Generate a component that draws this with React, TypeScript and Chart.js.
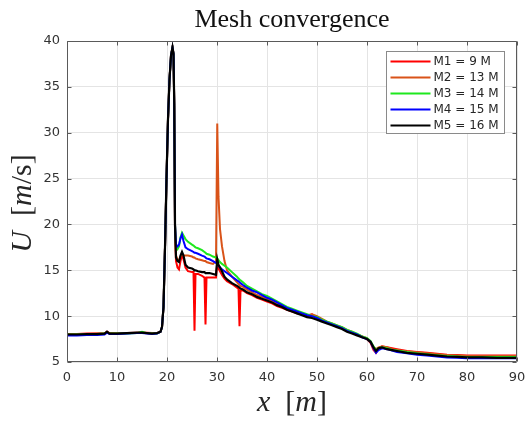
import React, { useEffect, useRef } from "react";
import { Chart, registerables } from "chart.js";

Chart.register(...registerables);

// x positions along the channel [m]
const X = [
  0, 2, 4, 6, 7.5, 8, 8.5, 10, 12, 14, 15, 16, 17, 18, 18.7, 19, 19.3, 19.6, 19.9, 20.2,
  20.5, 20.8, 21.1, 21.3, 21.45, 21.6, 21.8, 22.1, 22.4, 22.7, 23, 23.3, 23.7, 24.2, 25, 25.3,
  25.5, 25.7, 26.2, 27, 27.5, 27.7, 27.9, 28.5, 29.2, 29.8, 30.05, 30.3, 30.6, 31, 31.5, 32,
  33, 34, 34.3, 34.5, 34.7, 35.2, 36, 37, 38, 39, 40, 41, 42, 43, 44, 45, 46, 47, 48, 49, 50,
  51, 52, 53, 54, 55, 56, 57, 58, 59, 60, 60.7, 61.3, 61.8, 62.3, 63, 64, 65, 66, 68, 70, 72,
  74, 76, 78, 80, 83, 86, 90,
];

const M1 = [
  8.05, 8.05, 8.1, 8.1, 8.1, 8.3, 8.15, 8.1, 8.15, 8.2, 8.2, 8.2, 8.15, 8.15,
  8.3, 8.8, 11.0, 17.5, 25.0, 31.5, 35.8, 38.4, 39.3, 38.6, 33.0, 19.5,
  16.0, 15.3, 15.1, 16.0, 16.7, 16.2, 15.3, 14.9, 14.8, 14.8, 8.4, 14.6, 14.6, 14.4, 14.2, 9.1,
  14.2, 14.2, 14.2, 14.2, 15.8, 15.2, 14.9, 14.5, 14.1, 13.8, 13.5, 13.1, 13.0, 8.9, 12.8, 12.8,
  12.5, 12.3, 12.0, 11.8, 11.6, 11.4, 11.1, 10.9, 10.7, 10.5, 10.3, 10.2, 10.0, 10.2, 9.8, 9.5,
  9.3, 9.1, 8.9, 8.7, 8.4, 8.2, 8.0, 7.8, 7.5, 7.1, 6.3, 6.0, 6.5, 6.7, 6.6, 6.5, 6.4, 6.2, 6.1,
  6.0, 5.9, 5.8, 5.75, 5.7, 5.7, 5.7, 5.7,
];

const M2 = [
  8.0, 8.05, 8.05, 8.1, 8.1, 8.25, 8.1, 8.1, 8.15, 8.15, 8.2, 8.15, 8.1, 8.15,
  8.3, 8.8, 11.0, 17.5, 25.0, 31.5, 35.8, 38.4, 39.3, 38.6, 33.0, 20.0,
  16.6, 16.2, 16.0, 16.5, 16.8, 16.6, 16.6, 16.6, 16.5, 16.4, 16.4, 16.3, 16.2, 16.1, 16.0, 16.0,
  15.9, 15.8, 15.7, 16.0, 31.0, 23.0, 19.5, 17.6, 16.0, 15.0, 14.3, 13.7, 13.5, 13.4, 13.3, 13.2,
  12.9, 12.6, 12.3, 12.1, 11.9, 11.6, 11.3, 11.1, 10.9, 10.6, 10.4, 10.2, 10.1, 10.2, 10.0, 9.7,
  9.4, 9.2, 9.0, 8.8, 8.5, 8.3, 8.0, 7.8, 7.6, 7.2, 6.6, 6.4, 6.6, 6.7, 6.6, 6.4, 6.3, 6.15, 6.05,
  5.95, 5.85, 5.75, 5.7, 5.65, 5.65, 5.65, 5.65,
];

const M3 = [
  8.0, 8.0, 8.0, 8.05, 8.1, 8.2, 8.1, 8.1, 8.1, 8.15, 8.3, 8.15, 8.1, 8.1,
  8.3, 8.8, 11.0, 17.5, 25.0, 31.5, 35.8, 38.4, 39.3, 38.6, 33.0, 20.0,
  17.5, 17.3, 17.6, 18.6, 19.1, 18.8, 18.4, 18.1, 17.8, 17.7, 17.6, 17.5, 17.4, 17.2, 17.0, 16.9,
  16.8, 16.7, 16.5, 16.4, 16.3, 16.1, 15.9, 15.7, 15.5, 15.3, 14.8, 14.3, 14.1, 14.0, 13.9, 13.7,
  13.3, 13.0, 12.7, 12.4, 12.2, 11.9, 11.6, 11.3, 11.0, 10.8, 10.6, 10.4, 10.2, 10.0, 9.9, 9.6,
  9.4, 9.2, 9.0, 8.8, 8.5, 8.3, 8.1, 7.8, 7.6, 7.3, 6.7, 6.3, 6.5, 6.6, 6.5, 6.35, 6.25, 6.1, 5.95,
  5.85, 5.75, 5.65, 5.6, 5.55, 5.55, 5.55, 5.55,
];

const M4 = [
  7.9, 7.9, 7.95, 7.95, 8.0, 8.2, 8.05, 8.05, 8.1, 8.15, 8.15, 8.1, 8.05, 8.1,
  8.3, 8.8, 11.0, 17.5, 25.0, 31.5, 35.8, 38.4, 39.3, 38.6, 33.0, 20.0,
  17.8, 17.6, 17.8, 18.5, 18.9, 18.2, 17.5, 17.3, 17.1, 17.0, 16.9, 16.9, 16.8, 16.6, 16.5, 16.4,
  16.3, 16.2, 16.0, 15.8, 15.7, 15.5, 15.3, 15.1, 14.9, 14.7, 14.3, 13.9, 13.8, 13.7, 13.6, 13.4,
  13.1, 12.8, 12.6, 12.3, 12.0, 11.8, 11.5, 11.2, 10.9, 10.7, 10.5, 10.3, 10.1, 10.0, 9.8, 9.5,
  9.3, 9.1, 8.9, 8.7, 8.4, 8.2, 8.0, 7.7, 7.5, 7.2, 6.5, 6.0, 6.3, 6.5, 6.4, 6.25, 6.1, 5.95, 5.8,
  5.7, 5.6, 5.5, 5.45, 5.4, 5.4, 5.4, 5.4,
];

const M5 = [
  8.0, 8.0, 8.05, 8.05, 8.1, 8.3, 8.1, 8.1, 8.15, 8.2, 8.2, 8.15, 8.1, 8.15,
  8.3, 8.8, 11.0, 17.5, 25.0, 31.5, 35.8, 38.4, 39.3, 38.6, 33.0, 20.0,
  16.4, 16.0, 15.9, 16.6, 17.0, 16.6, 15.6, 15.3, 15.2, 15.1, 15.0, 15.0, 14.9, 14.8, 14.8, 14.7,
  14.7, 14.7, 14.6, 14.5, 16.2, 15.6, 15.3, 14.9, 14.3, 14.0, 13.6, 13.3, 13.2, 13.1, 13.0, 12.9,
  12.6, 12.4, 12.1, 11.9, 11.7, 11.5, 11.2, 11.0, 10.7, 10.5, 10.3, 10.1, 9.9, 9.8, 9.6, 9.4,
  9.2, 9.0, 8.8, 8.6, 8.3, 8.1, 7.9, 7.7, 7.5, 7.2, 6.6, 6.2, 6.5, 6.6, 6.4, 6.3, 6.2, 6.0, 5.9,
  5.8, 5.7, 5.6, 5.55, 5.5, 5.5, 5.45, 5.45,
];

const SERIES_LABELS = ["M1 = 9 M", "M2 = 13 M", "M3 = 14 M", "M4 = 15 M", "M5 = 16 M"];
const SERIES_COLORS = ["#ff0000", "#d95319", "#1ee81e", "#0000ff", "#000000"];
const SERIES_VALUES = [M1, M2, M3, M4, M5];

const X_TICKS = [0, 10, 20, 30, 40, 50, 60, 70, 80, 90];
const Y_TICKS = [5, 10, 15, 20, 25, 30, 35, 40];

const TITLE = "Mesh convergence";
const X_LABEL: [string, boolean][] = [["x", true], ["  [", false], ["m", true], ["]", false]];
const Y_LABEL: [string, boolean][] = [
  ["U", true], ["  [", false], ["m", true], ["/", false], ["s", false], ["]", false],
];

const AXIS_COLOR = "#5a5a5a";
const SERIF = '"Liberation Serif", "Times New Roman", serif';
const SANS = '"DejaVu Sans", sans-serif';

function drawSegments(ctx: CanvasRenderingContext2D, segs: [string, boolean][], cx: number, baseline: number, size: number) {
  const fonts = segs.map(([, it]) => `${it ? "italic " : ""}${size}px ${SERIF}`);
  const widths = segs.map(([t], i) => {
    ctx.font = fonts[i];
    return ctx.measureText(t).width;
  });
  const total = widths.reduce((a, b) => a + b, 0);
  let x = cx - total / 2;
  ctx.textAlign = "left";
  ctx.textBaseline = "alphabetic";
  segs.forEach(([t], i) => {
    ctx.font = fonts[i];
    ctx.fillText(t, x, baseline);
    x += widths[i];
  });
}

const framePlugin = {
  id: "frame",
  beforeDraw(chart: any) {
    const { ctx, width, height } = chart;
    ctx.save();
    ctx.fillStyle = "#ffffff";
    ctx.fillRect(0, 0, width, height);
    ctx.restore();
  },
  afterDraw(chart: any) {
    const { ctx, chartArea: a, scales } = chart;
    const xs = scales.x;
    const ys = scales.y;
    ctx.save();
    ctx.strokeStyle = AXIS_COLOR;
    ctx.lineWidth = 1;
    const L = Math.round(a.left) + 0.5;
    const R = Math.round(a.right) - 0.5;
    const T = Math.round(a.top) + 0.5;
    const B = Math.round(a.bottom) - 0.5;
    ctx.beginPath();
    ctx.moveTo(L, T);
    ctx.lineTo(R, T);
    ctx.lineTo(R, B);
    ctx.lineTo(L, B);
    ctx.closePath();
    ctx.stroke();
    ctx.beginPath();
    X_TICKS.forEach((v) => {
      const p = Math.round(xs.getPixelForValue(v)) + 0.5;
      ctx.moveTo(p, B);
      ctx.lineTo(p, B - 4);
      ctx.moveTo(p, T);
      ctx.lineTo(p, T + 4);
    });
    Y_TICKS.forEach((v) => {
      const p = Math.round(ys.getPixelForValue(v)) + 0.5;
      ctx.moveTo(L, p);
      ctx.lineTo(L + 4, p);
      ctx.moveTo(R, p);
      ctx.lineTo(R - 4, p);
    });
    ctx.stroke();

    // legend
    const lx = Math.round(a.right) - 131 + 0.5;
    const ly = Math.round(a.top) + 10 + 0.5;
    const lw = 118;
    const lh = 82;
    ctx.fillStyle = "#ffffff";
    ctx.fillRect(lx, ly, lw, lh);
    ctx.strokeStyle = "#8a8a8a";
    ctx.strokeRect(lx, ly, lw, lh);
    ctx.font = `12px ${SANS}`;
    ctx.textBaseline = "middle";
    ctx.textAlign = "left";
    SERIES_LABELS.forEach((lab, i) => {
      const yy = ly + 10 + i * 16;
      ctx.strokeStyle = SERIES_COLORS[i];
      ctx.lineWidth = 2;
      ctx.beginPath();
      ctx.moveTo(lx + 4, yy);
      ctx.lineTo(lx + 44, yy);
      ctx.stroke();
      ctx.fillStyle = "#262626";
      ctx.fillText(lab, lx + 47, yy + 0.5);
    });

    // title
    ctx.fillStyle = "#111111";
    ctx.font = `26px ${SERIF}`;
    ctx.textAlign = "center";
    ctx.textBaseline = "alphabetic";
    const cx = (a.left + a.right) / 2;
    ctx.fillText(TITLE, cx, 27);

    // x label
    ctx.fillStyle = "#262626";
    drawSegments(ctx, X_LABEL, cx, 411, 30);

    // y label
    ctx.save();
    ctx.translate(31, (a.top + a.bottom) / 2 + 2);
    ctx.rotate(-Math.PI / 2);
    drawSegments(ctx, Y_LABEL, 0, 0, 30);
    ctx.restore();

    ctx.restore();
  },
};

export default function App() {
  const ref = useRef<HTMLCanvasElement | null>(null);

  useEffect(() => {
    if (!ref.current) return;
    const datasets = SERIES_VALUES.map((vals, i) => ({
      label: SERIES_LABELS[i],
      data: X.map((x, j) => ({ x, y: vals[j] })),
      borderColor: SERIES_COLORS[i],
      backgroundColor: SERIES_COLORS[i],
      borderWidth: i === 4 ? 2.2 : 2,
      pointRadius: 0,
      tension: 0,
      fill: false,
      order: 4 - i,
    }));
    const tickFont = { family: '"DejaVu Sans", sans-serif', size: 13 };
    const chart = new Chart(ref.current, {
      type: "line",
      data: { datasets },
      options: {
        animation: false,
        responsive: false,
        devicePixelRatio: 1,
        layout: { padding: { top: 41, right: 8, left: 0, bottom: 0 } },
        plugins: {
          legend: { display: false },
          tooltip: { enabled: false },
          title: { display: false },
        },
        scales: {
          x: {
            type: "linear",
            min: 0,
            max: 90,
            afterBuildTicks: (s: any) => {
              s.ticks = X_TICKS.map((v) => ({ value: v }));
            },
            ticks: { padding: 8, color: "#333333", font: tickFont, maxRotation: 0, autoSkip: false },
            grid: { color: "#e4e4e4", drawTicks: false },
            border: { display: false },
            afterFit: (s: any) => {
              s.height = 60;
              s.paddingLeft = 0;
              s.paddingRight = 0;
            },
          },
          y: {
            type: "linear",
            min: 5,
            max: 40,
            afterBuildTicks: (s: any) => {
              s.ticks = Y_TICKS.map((v) => ({ value: v }));
            },
            ticks: { padding: 7, color: "#333333", font: tickFont },
            grid: { color: "#e4e4e4", drawTicks: false },
            border: { display: false },
            afterFit: (s: any) => {
              s.width = 67;
              s.paddingTop = 0;
              s.paddingBottom = 0;
            },
          },
        },
      } as any,
      plugins: [framePlugin],
    });
    return () => chart.destroy();
  }, []);

  return (
    <div style={{ position: "fixed", left: 0, top: 0, width: 525, height: 422, background: "#fff" }}>
      <canvas ref={ref} width={525} height={422} style={{ display: "block", width: 525, height: 422 }} />
    </div>
  );
}
